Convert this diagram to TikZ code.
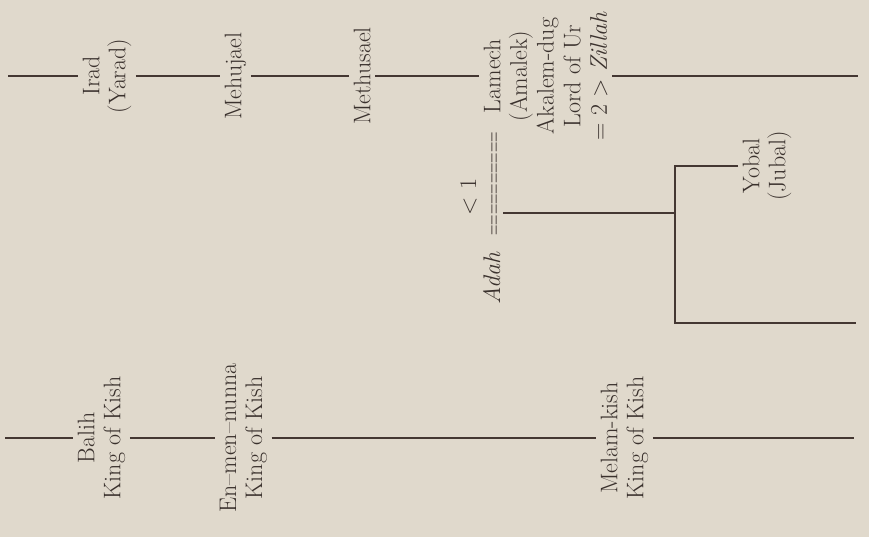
\documentclass[tikz,border=0pt]{standalone}
\usepackage{fontspec}
\usepackage{graphicx}
\definecolor{bg}{RGB}{224,217,204}
\definecolor{ink}{RGB}{68,55,50}
\definecolor{txt}{RGB}{58,49,45}
\begin{document}
\begin{tikzpicture}[x=0.75pt,y=-0.75pt,
  lbl/.style={rotate=90, align=center, inner sep=0pt, outer sep=3.5pt, text=txt,
              font=\fontsize{18}{19.5}\selectfont, anchor=north},
  bare/.style={rotate=90, inner sep=0pt, outer sep=0pt, text=txt,
               font=\fontsize{18}{19.5}\selectfont},
  ln/.style={draw=ink, line width=1.5pt}]
\fill[bg] (0,0) rectangle (869,537);
\useasboundingbox (0,0) rectangle (869,537);

% top row
\coordinate (t0) at (8,76);
\node[lbl] (irad) at (78,76) {Irad\\(Yarad)};
\node[lbl] (mehujael) at (220,76) {Mehujael};
\node[lbl] (methusael) at (349,76) {Methusael};
\node[lbl, font=\fontsize{18}{20}\selectfont] (lamech) at (479,76)
  {Lamech\\(Amalek)\\Akalem-dug\\Lord of Ur\\= 2 > \textit{Zillah}};
\coordinate (t1) at (858,76);
\draw[ln] (t0) -- (irad.north);
\draw[ln] (irad.south) -- (mehujael.north);
\draw[ln] (mehujael.south) -- (methusael.north);
\draw[ln] (methusael.south) -- (lamech.north);
\draw[ln] (lamech.south) -- (t1);

% Adah marriage
\node[bare, anchor=base east] (adah) at (500,132)
  {\textit{Adah}\hspace{12pt}\scalebox{0.6}[1]{==========}};
\node[bare, anchor=base] (one) at (476,197) {< 1};

\coordinate (m0) at (503,213);
\coordinate (j) at (675,213);
\coordinate (jb) at (675,323);
\coordinate (b1) at (856,323);
\node[lbl] (yobal) at (738,166) {Yobal\\(Jubal)};
\draw[ln] (m0) -- (j);
\draw[ln] (yobal.north) -| (jb) -- (b1);

% bottom row
\coordinate (b0) at (5,438);
\node[lbl] (balih) at (73,438) {Balih\\King of Kish};
\node[lbl] (enmen) at (215,438) {En--men--nunna\\King of Kish};
\node[lbl] (melam) at (596,438) {Melam-kish\\King of Kish};
\coordinate (bend) at (854,438);
\draw[ln] (b0) -- (balih.north);
\draw[ln] (balih.south) -- (enmen.north);
\draw[ln] (enmen.south) -- (melam.north);
\draw[ln] (melam.south) -- (bend);
\end{tikzpicture}
\end{document}
